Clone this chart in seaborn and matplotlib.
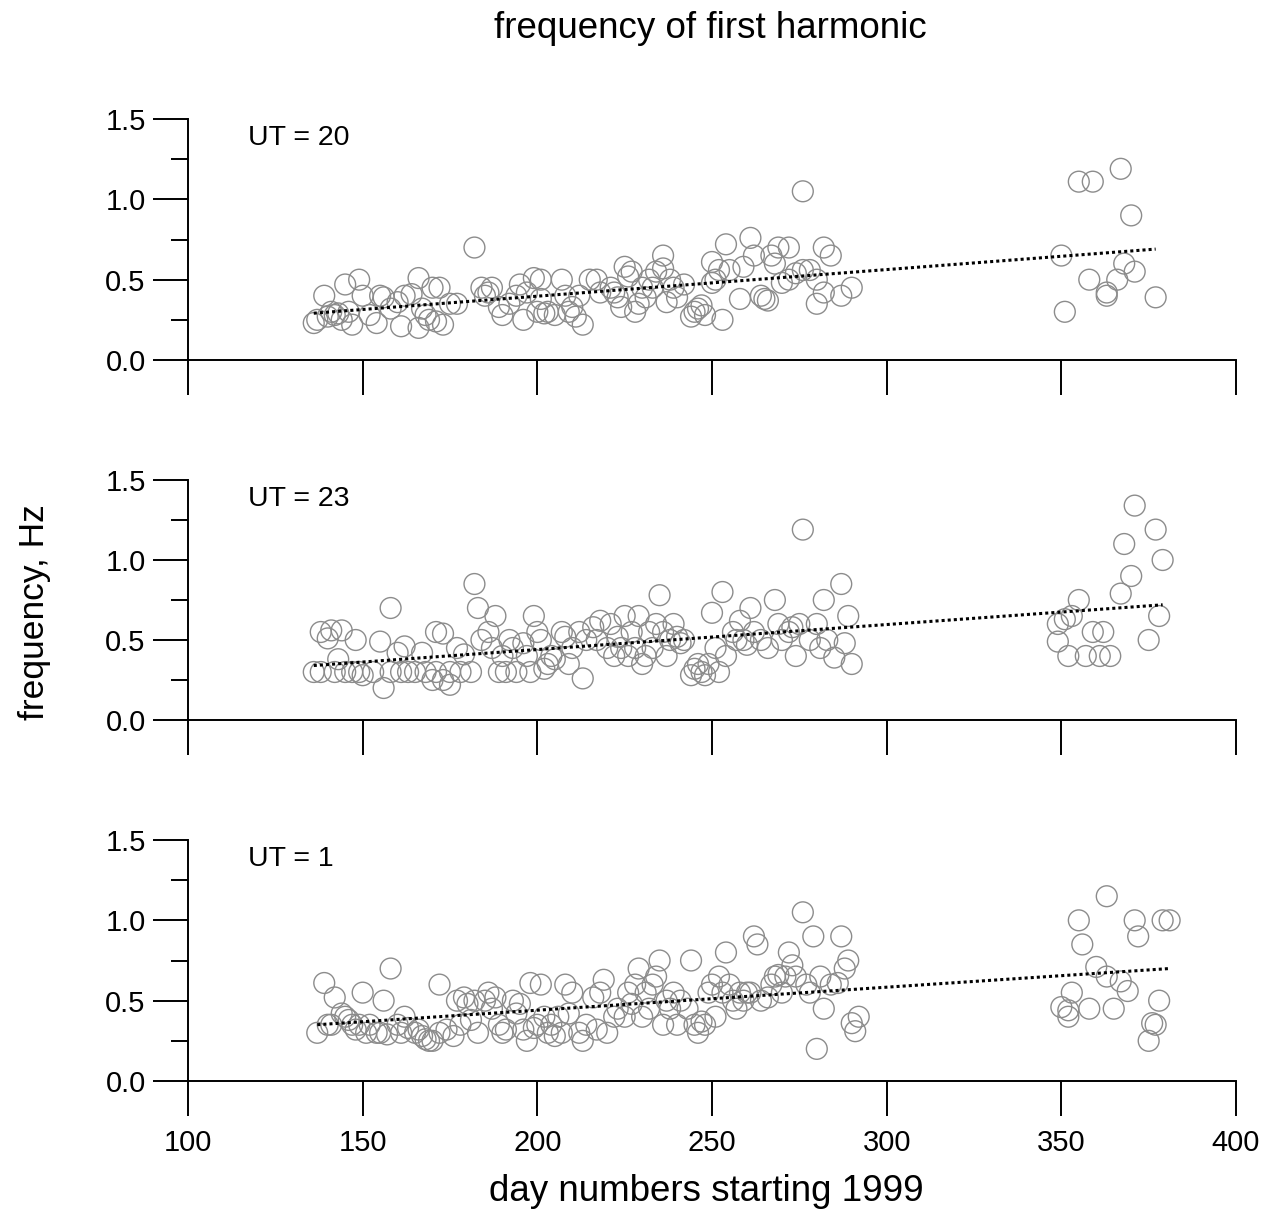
import numpy as np
import pandas as pd
import matplotlib
matplotlib.use("Agg")
import matplotlib.pyplot as plt
import seaborn as sns
from matplotlib.ticker import MultipleLocator

# ---------------- data ----------------
ut_labels = ["UT = 20", "UT = 23", "UT = 1"]

days_ut20 = [136, 137, 139, 140, 141, 142, 143, 144, 145, 146, 147, 149, 150, 152, 154, 155, 156, 158, 160, 161,
             162, 164, 166, 166, 167, 168, 169, 170, 171, 172, 173, 175, 177, 182, 184, 185, 186, 187, 189, 190,
             192, 194, 195, 196, 197, 199, 200, 201, 201, 202, 203, 205, 207, 208, 209, 210, 211, 212, 213, 215,
             217, 218, 221, 222, 223, 224, 225, 226, 227, 228, 229, 230, 231, 232, 233, 234, 236, 236, 237, 238,
             239, 240, 242, 244, 245, 246, 247, 248, 250, 250, 251, 252, 253, 254, 255, 258, 259, 261, 262, 264,
             265, 266, 267, 268, 269, 270, 272, 272, 274, 276, 276, 278, 280, 280, 282, 282, 284, 287, 290,
             350, 351, 355, 358, 359, 363, 363, 366, 367, 368, 370, 371, 377]
freq_ut20 = [.23, .25, .40, .27, .30, .28, .29, .25, .47, .30, .22, .50, .40, .28, .23, .40, .39, .32, .36, .21,
             .40, .41, .51, .20, .32, .28, .25, .45, .24, .45, .22, .35, .35, .70, .45, .40, .42, .45, .33, .28,
             .35, .40, .47, .25, .42, .51, .30, .50, .38, .29, .30, .28, .50, .40, .30, .33, .27, .40, .22, .50,
             .50, .42, .45, .42, .39, .33, .58, .52, .55, .30, .35, .45, .39, .50, .45, .55, .65, .57, .36, .50,
             .45, .39, .47, .27, .30, .32, .34, .28, .61, .48, .50, .56, .25, .72, .56, .38, .58, .76, .65, .40,
             .38, .37, .65, .60, .70, .48, .70, .50, .54, .56, 1.05, .56, .50, .35, .70, .42, .65, .40, .45,
             .65, .30, 1.11, .50, 1.11, .42, .40, .50, 1.19, .60, .90, .55, .39]

days_ut23 = [136, 138, 138, 140, 141, 142, 143, 144, 145, 147, 148, 149, 150, 153, 155, 156, 158, 158, 160, 161,
             162, 163, 165, 167, 168, 170, 171, 171, 173, 173, 175, 175, 177, 178, 179, 181, 182, 183, 184, 186,
             187, 188, 189, 190, 191, 192, 193, 194, 196, 197, 198, 199, 200, 201, 202, 203, 204, 205, 207, 208,
             209, 210, 212, 213, 214, 216, 217, 218, 220, 221, 222, 223, 224, 225, 226, 227, 228, 229, 230, 231,
             232, 233, 234, 235, 236, 237, 238, 239, 240, 241, 242, 244, 245, 246, 247, 248, 249, 250, 251, 252,
             253, 254, 256, 257, 258, 259, 260, 261, 262, 264, 266, 268, 269, 270, 272, 273, 274, 275, 276, 278,
             280, 281, 282, 283, 285, 287, 288, 289, 290,
             349, 349, 351, 352, 353, 355, 357, 359, 361, 362, 364, 367, 368, 370, 371, 375, 377, 378, 379]
freq_ut23 = [.30, .30, .55, .51, .56, .30, .38, .56, .30, .30, .50, .30, .28, .30, .49, .20, .70, .30, .42, .30,
             .46, .30, .30, .42, .30, .25, .55, .30, .54, .25, .22, .30, .45, .30, .41, .30, .85, .70, .50, .55,
             .45, .65, .30, .40, .30, .50, .45, .30, .48, .40, .30, .65, .55, .50, .32, .35, .40, .38, .55, .52,
             .35, .45, .55, .26, .50, .58, .50, .62, .45, .60, .40, .52, .45, .65, .40, .55, .45, .65, .35, .40,
             .55, .45, .60, .78, .55, .40, .50, .60, .52, .48, .50, .28, .32, .35, .30, .28, .35, .67, .45, .30,
             .80, .40, .55, .50, .62, .50, .47, .70, .55, .50, .45, .75, .60, .50, .55, .58, .40, .60, 1.19, .50,
             .60, .45, .75, .50, .39, .85, .48, .65, .35,
             .60, .49, .63, .40, .65, .75, .40, .55, .40, .55, .40, .79, 1.10, .90, 1.34, .50, 1.19, .65, 1.00]

days_ut1 = [137, 139, 140, 141, 142, 144, 145, 146, 147, 148, 149, 150, 151, 152, 154, 155, 156, 157, 158, 160,
            161, 162, 163, 165, 166, 167, 168, 169, 170, 172, 172, 174, 176, 177, 178, 179, 180, 181, 182, 183,
            185, 186, 187, 188, 189, 190, 191, 193, 194, 195, 196, 197, 198, 199, 200, 201, 202, 203, 204, 205,
            206, 207, 208, 209, 210, 212, 213, 214, 216, 217, 218, 219, 220, 222, 223, 225, 226, 227, 228, 229,
            230, 231, 232, 233, 234, 235, 236, 237, 238, 239, 240, 241, 243, 244, 245, 246, 247, 248, 249, 250,
            251, 252, 253, 254, 255, 256, 257, 258, 259, 260, 261, 262, 263, 264, 266, 267, 268, 269, 270, 271,
            272, 273, 274, 276, 277, 278, 279, 280, 281, 282, 284, 286, 287, 288, 289, 290, 291, 292,
            350, 352, 352, 353, 355, 356, 358, 360, 363, 363, 365, 367, 369, 371, 372, 375, 376, 377, 378, 379, 381]
freq_ut1 = [.30, .61, .35, .35, .52, .42, .40, .38, .35, .32, .35, .55, .30, .35, .30, .30, .50, .29, .70, .35,
            .30, .40, .33, .30, .32, .28, .26, .25, .25, .60, .30, .32, .28, .50, .35, .52, .48, .38, .50, .30,
            .50, .55, .45, .52, .35, .30, .32, .50, .42, .48, .32, .25, .61, .33, .35, .60, .40, .30, .35, .28,
            .40, .30, .60, .42, .55, .30, .25, .35, .52, .32, .55, .63, .30, .40, .45, .40, .55, .48, .60, .70,
            .40, .55, .45, .60, .65, .75, .35, .50, .45, .55, .35, .50, .45, .75, .35, .30, .37, .35, .55, .60,
            .40, .65, .55, .80, .60, .50, .45, .55, .50, .55, .55, .90, .85, .50, .52, .60, .65, .66, .55, .65,
            .80, .72, .65, 1.05, .60, .55, .90, .20, .65, .45, .60, .61, .90, .70, .75, .36, .31, .40,
            .46, .40, .44, .55, 1.00, .85, .45, .71, 1.15, .65, .45, .62, .56, 1.00, .90, .25, .36, .35, .50, 1.00, 1.00]

# linear trend (intercept, slope per day) for each panel
trend_intercepts = [0.066, 0.128, 0.154]
trend_slopes = [0.001656, 0.001562, 0.001433]

x_ticks = [100, 150, 200, 250, 300, 350, 400]
y_ticks = [0.0, 0.5, 1.0, 1.5]

title_text = "frequency of first harmonic"
xlabel_text = "day numbers starting 1999"
ylabel_text = "frequency, Hz"

# ---------------- plotting ----------------
sns.set_theme(style="white")
plt.rcParams['font.family'] = ['Liberation Sans', 'DejaVu Sans']

W, H = 1272, 1210
fig = plt.figure(figsize=(W / 100, H / 100), dpi=100)

left_px, right_px = 188, 1236
panel_px = [(119, 360), (480, 720), (840, 1081)]  # (top, bottom) pixel of each axes

all_days = [days_ut20, days_ut23, days_ut1]
all_freq = [freq_ut20, freq_ut23, freq_ut1]

edge_grey = "#8c8c8c"

for i, (top, bot) in enumerate(panel_px):
    ax = fig.add_axes([left_px / W, 1 - bot / H, (right_px - left_px) / W, (bot - top) / H])
    df = pd.DataFrame({"day": all_days[i], "freq": all_freq[i]})
    sns.scatterplot(data=df, x="day", y="freq", ax=ax, marker="o", s=225,
                    facecolors="none", edgecolor=edge_grey, linewidth=1.0, zorder=3)
    xs = np.array([min(all_days[i]), max(all_days[i])], dtype=float)
    tdf = pd.DataFrame({"day": xs, "freq": trend_intercepts[i] + trend_slopes[i] * xs})
    sns.lineplot(data=tdf, x="day", y="freq", ax=ax, color="black",
                 linestyle=(0, (1, 1)), linewidth=2.2, zorder=4)

    ax.set_xlim(100, 400)
    ax.set_ylim(0, 1.5)
    ax.set_xticks(x_ticks)
    ax.set_yticks(y_ticks)
    ax.yaxis.set_minor_locator(MultipleLocator(0.25))
    ax.set_yticklabels([f"{v:.1f}" for v in y_ticks])
    if i == 2:
        ax.set_xticklabels([str(v) for v in x_ticks])
    else:
        ax.set_xticklabels([])

    for s in ["top", "right"]:
        ax.spines[s].set_visible(False)
    for s in ["left", "bottom"]:
        ax.spines[s].set_visible(True)
        ax.spines[s].set_linewidth(1.4)
        ax.spines[s].set_color("black")
    ax.tick_params(axis="both", which="major", direction="out", length=25.5, width=1.4,
                   color="black", labelsize=21, labelcolor="black")
    ax.tick_params(axis="x", which="both", bottom=True, pad=9)
    ax.tick_params(axis="y", which="both", left=True, pad=5)
    ax.tick_params(axis="y", which="minor", direction="out", length=12.5, width=1.4, color="black")
    ax.grid(False)
    ax.set_xlabel("")
    ax.set_ylabel("")
    ax.set_facecolor("white")

    ax.text(0.057, (bot - (top + 19)) / (bot - top), ut_labels[i], transform=ax.transAxes,
            ha="left", va="center", fontsize=20.5, color="black")

fig.text(710 / W, 1 - 38 / H, title_text, ha="center", va="baseline",
         fontsize=26.5, color="black")
fig.text(706 / W, 1 - 1201 / H, xlabel_text, ha="center", va="baseline",
         fontsize=26.5, color="black")
fig.text(35 / W, 1 - 612 / H, ylabel_text, rotation=90, ha="center", va="center",
         fontsize=25.5, color="black")

fig.savefig("out.png", dpi=100, facecolor="white")
